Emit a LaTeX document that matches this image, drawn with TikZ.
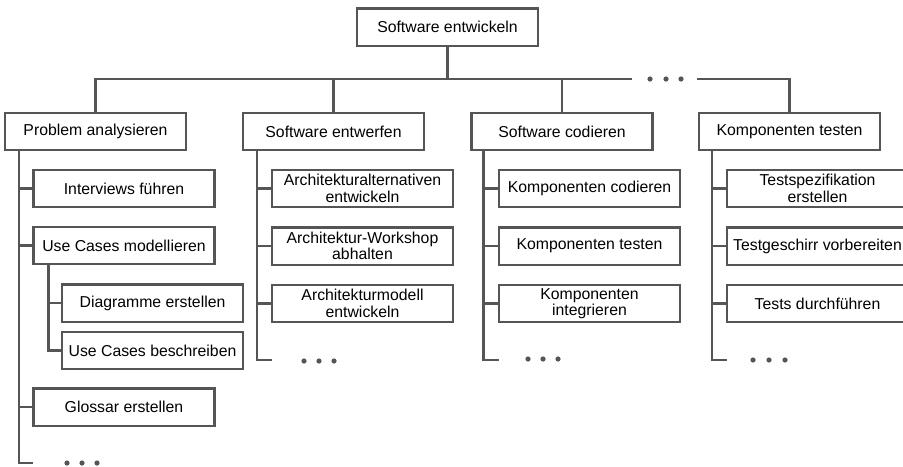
\documentclass[tikz,border=0pt]{standalone}
\usepackage{fontspec}
\setmainfont{Liberation Sans}
\usepackage{tikz}
\usetikzlibrary{positioning}

\definecolor{linegray}{HTML}{555555}
\tikzset{
    task/.style={draw=linegray, line width=1.2pt, fill=white, minimum width=90.5pt,
        minimum height=18.7pt, inner sep=1pt, align=center,
        font=\fontsize{7.9pt}{8.2pt}\selectfont},
    wbs/.style={draw=linegray, line width=1.2pt},
    etc/.style={fill=linegray}
}

\begin{document}
\begin{tikzpicture}[x=0.5pt, y=-0.5pt]
        \clip (0,0) rectangle (903,466);
        % Root
        \node[task] (root) at (447.5,27) {Software entwickeln};
        % First level
        \node[task] (pa) at (95.5,131.5) {Problem analysieren};
        \node[task] (se) at (333.5,131.5) {Software entwerfen};
        \node[task] (sc) at (562,131.5) {Software codieren};
        \node[task] (kt) at (789.5,131.5) {Komponenten testen};
        % Problem analysieren
        \node[task] (if) at (124,188.5) {Interviews führen};
        \node[task] (ucm) at (124,245.5) {Use Cases modellieren};
        \node[task] (de) at (152.5,303) {Diagramme erstellen};
        \node[task] (ucb) at (152.5,350.5) {Use Cases beschreiben};
        \node[task] (ge) at (124,407) {Glossar erstellen};
        % Software entwerfen
        \node[task] (aa) at (362.5,188.5) {Architekturalternativen\\entwickeln};
        \node[task] (aw) at (362.5,246) {Architektur-Workshop\\abhalten};
        \node[task] (am) at (362.5,303.5) {Architekturmodell\\entwickeln};
        % Software codieren
        \node[task] (kc) at (589.5,188.5) {Komponenten codieren};
        \node[task] (kp) at (589.5,246) {Komponenten testen};
        \node[task] (ki) at (589.5,303.5) {Komponenten\\integrieren};
        % Komponenten testen
        \node[task] (ts) at (817.5,188.5) {Testspezifikation\\erstellen};
        \node[task] (tg) at (817.5,246) {Testgeschirr vorbereiten};
        \node[task] (td) at (817.5,303.5) {Tests durchführen};

        % Horizontal bar
        \coordinate (dl) at (632,79);
        \coordinate (dr) at (697,79);
        \draw[wbs] (pa.north) |- (dl);
        \draw[wbs] (dr) -| (kt.north);
        \draw[wbs] (root.south) -- (root.south |- dl);
        \draw[wbs] (se.north) -- (se.north |- dl);
        \draw[wbs] (sc.north) -- (sc.north |- dl);
        \foreach \x in {650,666,681} \fill[etc] (\x,79) circle (1.3pt);

        % Vertical lines
        \coordinate (t1) at ([xshift=7.5pt]pa.south west);
        \coordinate (t2) at ([xshift=7.5pt]se.south west);
        \coordinate (t3) at ([xshift=6.5pt]sc.south west);
        \coordinate (t4) at ([xshift=7pt]kt.south west);
        \coordinate (t5) at ([xshift=8pt]ucm.south west);
        \coordinate (e1) at (33,463);
        \coordinate (e2) at (272,360);
        \coordinate (e3) at (499,360);
        \coordinate (e4) at (727,360);
        \draw[wbs] (t1) |- (e1);
        \draw[wbs] (t2) |- (e2);
        \draw[wbs] (t3) |- (e3);
        \draw[wbs] (t4) |- (e4);
        \draw[wbs] (t5) |- (ucb.west);

        % Ticks
        \foreach \n in {if,ucm,ge} \draw[wbs] (t1 |- \n.west) -- (\n.west);
        \draw[wbs] (t5 |- de.west) -- (de.west);
        \foreach \n in {aa,aw,am} \draw[wbs] (t2 |- \n.west) -- (\n.west);
        \foreach \n in {kc,kp,ki} \draw[wbs] (t3 |- \n.west) -- (\n.west);
        \foreach \n in {ts,tg,td} \draw[wbs] (t4 |- \n.west) -- (\n.west);

        % Dots
        \foreach \x in {67,82,97} \fill[etc] (\x,463) circle (1.3pt);
        \foreach \x in {304,319,334} \fill[etc] (\x,361) circle (1.3pt);
        \foreach \x in {528,543,558} \fill[etc] (\x,359) circle (1.3pt);
        \foreach \x in {753,769,785} \fill[etc] (\x,360) circle (1.3pt);
    \end{tikzpicture}
\end{document}
